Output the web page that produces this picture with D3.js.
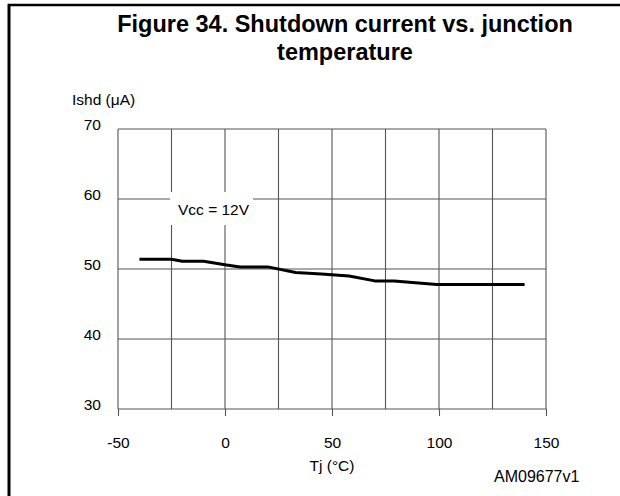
<!DOCTYPE html>
<html>
<head>
<meta charset="utf-8">
<script src="https://cdn.jsdelivr.net/npm/d3@7"></script>
<style>
  html, body { margin: 0; padding: 0; background: #fff; }
  svg { display: block; font-family: "Liberation Sans", Arial, sans-serif; }
</style>
</head>
<body>
<svg id="chart" width="620" height="496"></svg>
<script>
// Junction temperature (°C) and shutdown current (µA) at Vcc = 12 V
const tempC = [-40, -25, -20, -10, 0, 7, 20, 33, 45, 58, 70, 79, 99, 140];
const ishdUA = [51.4, 51.4, 51.1, 51.1, 50.6, 50.3, 50.3, 49.5, 49.3, 49.0, 48.3, 48.3, 47.8, 47.8];

const xGrid = [-50, -25, 0, 25, 50, 75, 100, 125, 150];
const xTickLabels = [-50, 0, 50, 100, 150];
const yTicks = [30, 40, 50, 60, 70];

const svg = d3.select("#chart");

// page frame: rule across the top and down the left side
svg.append("line").attr("x1", 8).attr("x2", 620).attr("y1", 5).attr("y2", 5)
  .attr("stroke", "#000").attr("stroke-width", 2.5);
svg.append("line").attr("x1", 9).attr("x2", 9).attr("y1", 4).attr("y2", 496)
  .attr("stroke", "#000").attr("stroke-width", 3);

// title
const title = svg.append("text").attr("text-anchor", "middle")
  .attr("font-weight", "bold").attr("font-size", 23.5).attr("fill", "#000");
title.append("tspan").attr("x", 345).attr("y", 32).text("Figure 34. Shutdown current vs. junction");
title.append("tspan").attr("x", 345).attr("y", 60).text("temperature");

const x = d3.scaleLinear().domain([-50, 150]).range([118, 546]);
const y = d3.scaleLinear().domain([30, 70]).range([409, 129]);

// grid
const grid = svg.append("g").attr("stroke", "#555").attr("stroke-width", 1.1);
grid.selectAll("line.v").data(xGrid).join("line").attr("class", "v")
  .attr("x1", d => x(d)).attr("x2", d => x(d))
  .attr("y1", y(70)).attr("y2", y(30));
grid.selectAll("line.h").data(yTicks).join("line").attr("class", "h")
  .attr("x1", x(-50)).attr("x2", x(150))
  .attr("y1", d => y(d)).attr("y2", d => y(d));

// x axis ticks and labels
const xAxis = d3.axisBottom(x).tickValues(xTickLabels).tickSize(7).tickPadding(32)
  .tickFormat(d => String(d));
const gx = svg.append("g").attr("transform", `translate(0,${y(30)})`).call(xAxis);
gx.select(".domain").remove();
gx.selectAll(".tick line").attr("stroke", "#555").attr("stroke-width", 1.1);
gx.selectAll(".tick text").attr("font-size", 15.5).attr("fill", "#000")
  .attr("font-family", "Liberation Sans, Arial, sans-serif").attr("dy", "0");

// y axis labels
svg.append("g").selectAll("text").data(yTicks).join("text")
  .attr("x", 101).attr("y", d => y(d) + 1)
  .attr("text-anchor", "end").attr("font-size", 15.5).attr("fill", "#000")
  .text(d => d);

// axis titles
svg.append("text").attr("x", 72).attr("y", 105).attr("font-size", 15.5).text("Ishd (μA)");
svg.append("text").attr("x", x(50)).attr("y", 471).attr("text-anchor", "middle")
  .attr("font-size", 15.5).text("Tj (°C)");
svg.append("text").attr("x", 494).attr("y", 482).attr("font-size", 16).text("AM09677v1");

// condition label on a white patch over the grid
svg.append("rect").attr("x", 170).attr("y", 192).attr("width", 83).attr("height", 33).attr("fill", "#fff");
svg.append("text").attr("x", 178).attr("y", 215).attr("font-size", 15.5).text("Vcc = 12V");

// curve
const line = d3.line().x((d, i) => x(tempC[i])).y(d => y(d));
svg.append("path").datum(ishdUA).attr("d", line)
  .attr("fill", "none").attr("stroke", "#000").attr("stroke-width", 3)
  .attr("stroke-linejoin", "round");
</script>
</body>
</html>
